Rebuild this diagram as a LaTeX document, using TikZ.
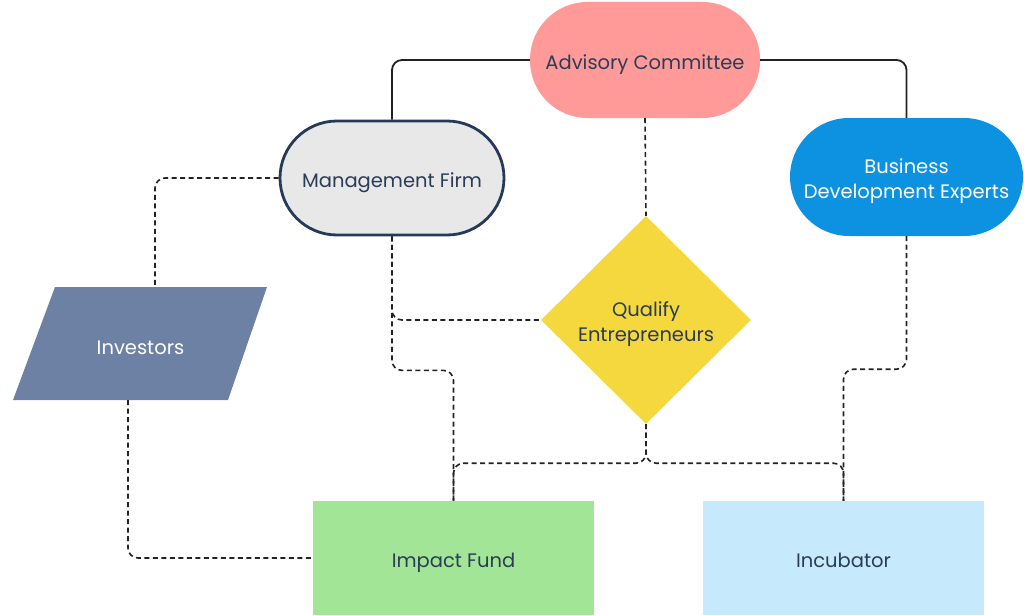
\documentclass[tikz,border=0pt]{standalone}
\usepackage{fontspec}
\setmainfont{Poppins}
\usetikzlibrary{shapes.geometric,calc}
\definecolor{txt}{HTML}{2B3C58}
\definecolor{pinkc}{HTML}{FF9A98}
\definecolor{grayc}{HTML}{E8E8E8}
\definecolor{navyc}{HTML}{253A5A}
\definecolor{bluec}{HTML}{0D92E2}
\definecolor{yellowc}{HTML}{F5D73E}
\definecolor{slatec}{HTML}{6C81A3}
\definecolor{greenc}{HTML}{A2E596}
\definecolor{lightbluec}{HTML}{C6E9FC}
\definecolor{linec}{HTML}{222222}
\tikzset{
  lbl/.style={font=\fontsize{19.5}{25}\selectfont, text=txt, align=center},
  one/.style={text height=19.5pt, text depth=0pt},
  stadium/.style={lbl, one, rounded corners=57.5pt, minimum width=230pt, minimum height=116pt, inner sep=0pt},
  boxc/.style={lbl, one, minimum width=281pt, minimum height=114pt, inner sep=0pt},
  solidc/.style={draw=linec, line width=1.8pt, rounded corners=10pt},
  dashc/.style={draw=linec, line width=1.6pt, dash pattern=on 5pt off 3.5pt, rounded corners=10pt},
}
\begin{document}
\begin{tikzpicture}[x=1pt,y=-1pt]
\useasboundingbox (0,0) rectangle (1024,615);
% nodes
\node[stadium, fill=pinkc] (adv) at (645,60) {Advisory Committee};
\node[stadium, fill=grayc, draw=navyc, line width=2.8pt, minimum width=224pt, minimum height=114pt, rounded corners=57pt] (mf) at (392,178) {Management Firm};
\node[stadium, fill=bluec, minimum width=233pt, minimum height=118pt, rounded corners=59pt] (bde) at (906.5,177) {};
\node[lbl, text=white] (bdet) at (906.5,181) {Business\\Development Experts};
\node[shape=diamond, fill=yellowc, minimum width=210pt, minimum height=208pt, inner sep=0pt] (dia) at (646,320) {};
\node[lbl] (diat) at (646,324.5) {Qualify\\Entrepreneurs};
\fill[slatec] (55,287) -- (267,287) -- (228,400) -- (13,400) -- cycle;
\node[lbl, one, text=white] (inv) at (140.5,344.5) {Investors};
\coordinate (invtop) at (155,287);
\coordinate (invbot) at (128,400);
\node[boxc, fill=greenc] (if) at (453.5,558) {Impact Fund};
\node[boxc, fill=lightbluec] (inc) at (843.5,558) {Incubator};
% connectors
\draw[solidc] (adv.west) -| (mf.north);
\draw[solidc] (adv.east) -| (bde.north);
\draw[dashc] (adv.south) -- (dia.north);
\draw[dashc] (mf.west) -| (invtop);
\draw[dashc] (mf.south) |- (dia.west);
\draw[dashc] (mf.south) -- ++(0,134) -| (if.north);
\draw[dashc] (dia.south) -- ++(0,39) -| (if.north);
\draw[dashc] (dia.south) -- ++(0,39) -| (inc.north);
\draw[dashc] (bde.south) -- ++(0,133) -| (inc.north);
\draw[dashc] (invbot) |- (if.west);
\end{tikzpicture}
\end{document}
